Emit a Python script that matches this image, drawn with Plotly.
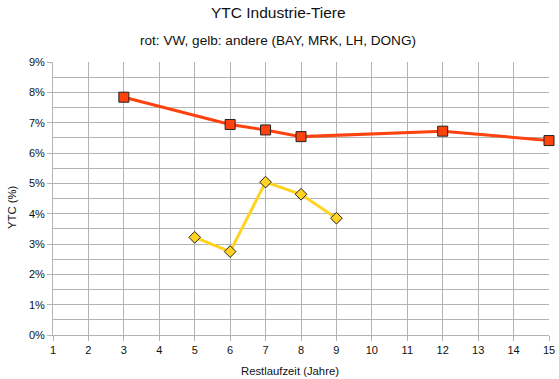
import plotly.graph_objects as go

vw_x = [3, 6, 7, 8, 12, 15]
vw_y = [7.84, 6.94, 6.76, 6.54, 6.72, 6.41]
other_x = [5, 6, 7, 8, 9]
other_y = [3.22, 2.75, 5.04, 4.64, 3.85]
x_ticks = list(range(1, 16))
y_ticks = list(range(0, 10))

fig = go.Figure()
fig.add_trace(go.Scatter(x=vw_x, y=vw_y, mode="lines+markers", name="VW",
                         line=dict(color="#ff420e", width=3),
                         marker=dict(symbol="square", size=10, color="#ff420e",
                                     line=dict(color="#222222", width=1)),
                         cliponaxis=False))
fig.add_trace(go.Scatter(x=other_x, y=other_y, mode="lines+markers", name="andere",
                         line=dict(color="#ffd320", width=3),
                         marker=dict(symbol="diamond", size=9, color="#ffd320",
                                     line=dict(color="#222222", width=1)),
                         cliponaxis=False))

font = "Liberation Sans, Arial, sans-serif"
W, H = 559, 379
L, R, T, B = 53, 549, 62, 335


def px(x):
    return (x - L) / (R - L)


def py(y):
    return (B - y) / (B - T)


fig.update_layout(
    width=W, height=H,
    margin=dict(l=L, r=W - R, t=T, b=H - B, autoexpand=False),
    paper_bgcolor="white", plot_bgcolor="white",
    showlegend=False,
    font=dict(family=font, size=11, color="#111111"),
    annotations=[
        dict(text="YTC Industrie-Tiere", x=px(278), y=py(13), xref="paper", yref="paper",
             xanchor="center", yanchor="middle", showarrow=False,
             font=dict(size=15.5, family=font, color="#111111")),
        dict(text="rot: VW, gelb: andere (BAY, MRK, LH, DONG)", x=px(278), y=py(40),
             xref="paper", yref="paper", xanchor="center", yanchor="middle", showarrow=False,
             font=dict(size=13.6, family=font, color="#111111")),
        dict(text="Restlaufzeit (Jahre)", x=px(290), y=py(371), xref="paper", yref="paper",
             xanchor="center", yanchor="middle", showarrow=False,
             font=dict(size=11.3, family=font, color="#111111")),
        dict(text="YTC (%)", x=px(12), y=py(207), xref="paper", yref="paper",
             xanchor="center", yanchor="middle", showarrow=False, textangle=-90,
             font=dict(size=11.3, family=font, color="#111111")),
    ],
)

fig.update_xaxes(range=[1, 15], tickvals=x_ticks, ticktext=[str(v) for v in x_ticks],
                 showgrid=True, gridcolor="#b3b3b3", gridwidth=1,
                 showline=True, linecolor="#b3b3b3", ticks="outside", ticklen=5,
                 tickcolor="#b3b3b3", zeroline=False, automargin=False,
                 tickfont=dict(size=11))
fig.update_yaxes(range=[0, 9], tickvals=y_ticks, ticktext=[f"{v}%" for v in y_ticks],
                 showgrid=True, gridcolor="#b3b3b3", gridwidth=1,
                 minor=dict(dtick=0.5, showgrid=True, gridcolor="#b3b3b3", gridwidth=1),
                 showline=True, linecolor="#b3b3b3", ticks="outside", ticklen=5,
                 tickcolor="#b3b3b3", zeroline=False, automargin=False,
                 tickfont=dict(size=11))

fig.write_html("out.html", config={"displayModeBar": False},
               post_script="document.body.style.margin='0';")
